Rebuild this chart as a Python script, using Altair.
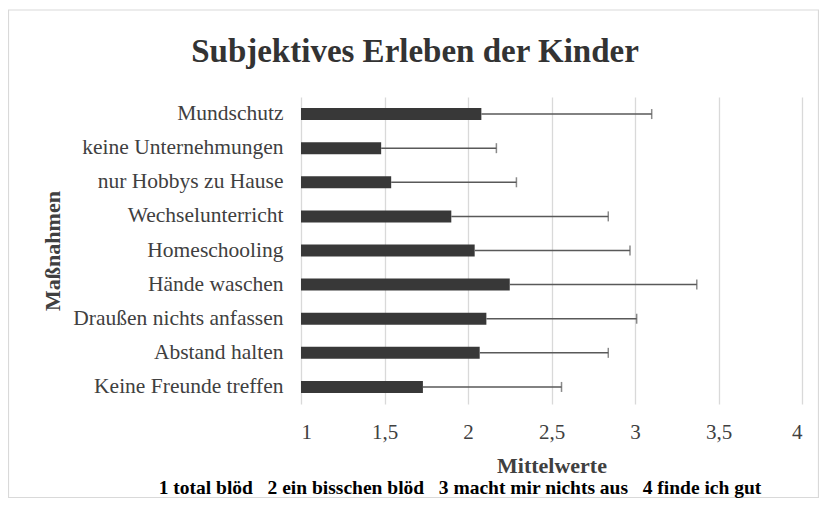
import altair as alt
import pandas as pd

categories = ["Mundschutz", "keine Unternehmungen", "nur Hobbys zu Hause",
              "Wechselunterricht", "Homeschooling", "Hände waschen",
              "Draußen nichts anfassen", "Abstand halten", "Keine Freunde treffen"]
means = [2.08, 1.48, 1.54, 1.90, 2.04, 2.25, 2.11, 2.07, 1.73]
sds = [1.02, 0.69, 0.75, 0.94, 0.93, 1.12, 0.90, 0.77, 0.83]
x_ticks = [1, 1.5, 2, 2.5, 3, 3.5, 4]
chart_title = "Subjektives Erleben der Kinder"
legend_text = "1 total blöd\u00a0\u00a0\u00a02 ein bisschen blöd\u00a0\u00a0\u00a03 macht mir nichts aus\u00a0\u00a0\u00a04 finde ich gut"

df = pd.DataFrame({"Maßnahme": categories, "Mittelwert": means, "SD": sds})
df["Oben"] = df["Mittelwert"] + df["SD"]

FONT = "Liberation Serif"
W, H = 501, 307

xscale = alt.Scale(domain=[1, 4], nice=False, zero=False)
yscale = alt.Scale(paddingInner=0.6, paddingOuter=0.3)

xaxis = alt.Axis(values=x_ticks, labelExpr="replace(toString(datum.value), '.', ',')",
                 grid=True, gridColor="#d9d9d9", gridWidth=1.3, domain=False, ticks=False,
                 labelFont=FONT, labelFontSize=21, labelColor="#404040", labelPadding=17,
                 title="Mittelwerte", titleFont=FONT, titleFontSize=22, titleFontWeight="bold",
                 titleColor="#404040", titleY=68, titleBaseline="alphabetic")
yaxis = alt.Axis(domain=False, ticks=False, labelFont=FONT, labelFontSize=21.5,
                 labelColor="#404040", labelPadding=18, labelLimit=400,
                 title="Maßnahmen", titleFont=FONT, titleFontSize=22, titleFontWeight="bold",
                 titleColor="#404040", titleX=-249, titleY=153.5, titleAngle=270,
                 titleAlign="center", titleBaseline="middle")

base = alt.Chart(df)

bars = base.mark_bar(size=12, color="#383838", clip=True).encode(
    y=alt.Y("Maßnahme:N", sort=categories, scale=yscale, axis=yaxis),
    x=alt.X("Mittelwert:Q", scale=xscale, axis=xaxis),
    x2=alt.datum(1),
)
err = base.mark_rule(color="#595959", strokeWidth=1.5).encode(
    y=alt.Y("Maßnahme:N", sort=categories),
    x="Mittelwert:Q",
    x2="Oben:Q",
)
caps = base.mark_tick(color="#595959", thickness=1.5, size=10).encode(
    y=alt.Y("Maßnahme:N", sort=categories),
    x="Oben:Q",
)

one = pd.DataFrame({"t": [legend_text], "title": [chart_title]})
frame = alt.Chart(one).mark_rect(fill=None, stroke="#d9d9d9", strokeWidth=1.2).encode(
    x=alt.value(-292.5), x2=alt.value(517.5), y=alt.value(-87), y2=alt.value(400.5)
)
title = alt.Chart(one).mark_text(font=FONT, fontSize=33, fontWeight="bold",
                                 color="#333333", align="center", baseline="alphabetic").encode(
    text="title:N", x=alt.value(114), y=alt.value(-35)
)
legend = alt.Chart(one).mark_text(font=FONT, fontSize=19.5, fontWeight="bold",
                                  color="#000000", align="center", baseline="alphabetic").encode(
    text="t:N", x=alt.value(159), y=alt.value(396.5)
)

chart = alt.layer(frame, bars, err, caps, title, legend).properties(
    width=W, height=H,
    autosize=alt.AutoSizeParams(type="none"),
    padding={"left": 293, "top": 89, "right": 17, "bottom": 94},
).configure_view(stroke=None)

chart.save("out.html", embed_options={"renderer": "svg", "actions": False})
